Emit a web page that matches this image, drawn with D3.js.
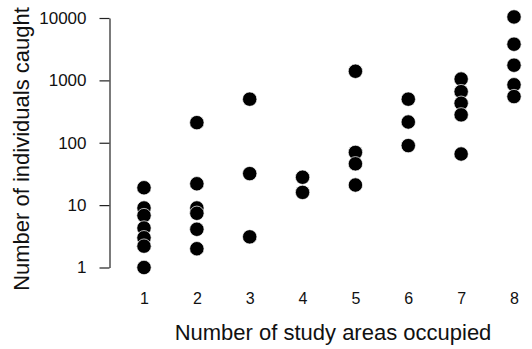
<!DOCTYPE html>
<html>
<head>
<meta charset="utf-8">
<script src="https://cdn.jsdelivr.net/npm/d3@7"></script>
<style>
  body { margin: 0; background: #fff; }
  svg { display: block; font-family: "Liberation Sans", Arial, Helvetica, sans-serif; }
  .axis path, .axis line { stroke: #222; stroke-width: 1.2px; }
  .axis text { fill: #111; }
</style>
</head>
<body>
<div id="chart"></div>
<script>
// study areas occupied (x categories)
const studyAreas = [1, 2, 3, 4, 5, 6, 7, 8];

// individuals caught, one list per number of areas
const caught = [
    [19, 9, 6.8, 4.3, 3, 2.2, 1],
    [210, 22, 9, 7.4, 4.1, 2],
    [500, 32, 3.1],
    [28, 16],
    [1400, 70, 46, 21],
    [500, 215, 90],
    [1050, 660, 430, 280, 66],
    [10400, 3800, 1750, 850, 550]
];

const yTicks = [1, 10, 100, 1000, 10000];

const width = 532;
const height = 349;

const points = [];
studyAreas.forEach((a, i) => {
    caught[i].forEach(v => points.push({area: a, n: v}));
});

const x = d3.scaleLinear()
    .domain([1, 8])
    .range([144, 514]);

const y = d3.scaleLog()
    .domain([1, 10000])
    .range([267.5, 18]);

const svg = d3.select('#chart').append('svg')
    .attr('width', width)
    .attr('height', height);

// ... y axis
const yAxis = d3.axisLeft(y)
    .tickValues(yTicks)
    .tickSize(10)
    .tickSizeOuter(0)
    .tickPadding(13)
    .tickFormat(d3.format('d'));

svg.append('g')
    .attr('class', 'axis y')
    .attr('transform', 'translate(109.5,0)')
    .call(yAxis)
    .selectAll('text')
    .style('font-size', '17px');

// ... x axis (labels only)
const xAxis = d3.axisBottom(x)
    .tickValues(studyAreas)
    .tickSize(0)
    .tickPadding(13)
    .tickFormat(d3.format('d'));

const gx = svg.append('g')
    .attr('class', 'axis x')
    .attr('transform', 'translate(0,280)')
    .call(xAxis);
gx.select('.domain').remove();
gx.selectAll('text').style('font-size', '16px');

// ... points
svg.append('g')
    .selectAll('circle')
    .data(points)
    .join('circle')
    .attr('cx', d => x(d.area))
    .attr('cy', d => y(d.n))
    .attr('r', 7.2)
    .attr('fill', '#000')
    .attr('stroke', '#fff')
    .attr('stroke-width', 0.7);

// ... axis titles
svg.append('text')
    .attr('x', 333)
    .attr('y', 340)
    .style('text-anchor', 'middle')
    .style('font-size', '22px')
    .attr('fill', '#111')
    .text('Number of study areas occupied');

svg.append('text')
    .attr('transform', 'translate(29,149) rotate(-90)')
    .style('text-anchor', 'middle')
    .style('font-size', '22px')
    .attr('fill', '#111')
    .text('Number of individuals caught');
</script>
</body>
</html>
